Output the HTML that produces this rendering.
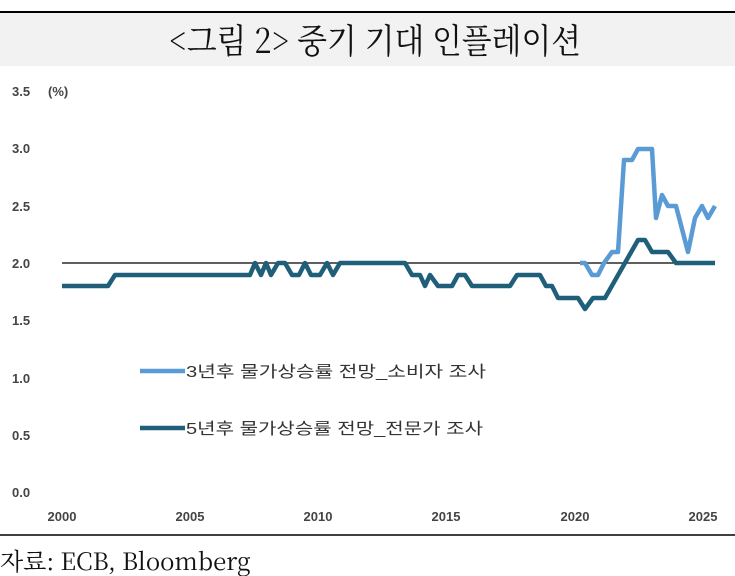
<!DOCTYPE html>
<html><head><meta charset="utf-8"><style>
body{margin:0;background:#fff;width:735px;height:576px;overflow:hidden;font-family:"Liberation Sans","Noto Sans CJK KR",sans-serif}
</style></head><body>
<svg width="735" height="576" xmlns="http://www.w3.org/2000/svg" style="position:absolute;left:0;top:0">
<rect x="0" y="13" width="735" height="53" fill="#f2f2f2"/>
<line x1="0" y1="12" x2="735" y2="12" stroke="#000" stroke-width="2"/>
<line x1="0" y1="535" x2="735" y2="535" stroke="#000" stroke-width="1.5"/>
<text x="375" y="53" text-anchor="middle" font-family="'Noto Serif CJK SC','Liberation Serif',serif" font-size="34" fill="#111" textLength="412" lengthAdjust="spacingAndGlyphs">&lt;그림 2&gt; 중기 기대 인플레이션</text>
<g font-size="13" font-weight="bold" fill="#444">
<text x="12" y="96">3.5</text><text x="48" y="96">(%)</text>
<text x="12" y="153">3.0</text><text x="12" y="211">2.5</text><text x="12" y="268">2.0</text>
<text x="12" y="325">1.5</text><text x="12" y="383">1.0</text><text x="12" y="440">0.5</text><text x="12" y="497">0.0</text>
<g text-anchor="middle">
<text x="62" y="521">2000</text><text x="190" y="521">2005</text><text x="318" y="521">2010</text>
<text x="446" y="521">2015</text><text x="575" y="521">2020</text><text x="703" y="521">2025</text></g>
</g>
<line x1="62" y1="263" x2="715" y2="263" stroke="#000" stroke-width="1.3"/>
<polyline fill="none" stroke="#1f5f7a" stroke-width="4.5" stroke-linejoin="round" points="62,286 108,286 115,275 250,275 255,263 261,275 266,263 271,275 278,263 285,263 292,275 299,275 305,263 311,275 320,275 327,263 333,275 340,263 405,263 412,275 420,275 425,286 430,275 438,286 452,286 458,275 465,275 472,286 510,286 517,275 540,275 546,286 552,286 558,298 578,298 585,309 593,298 605,298 638,240 645,240 652,252 668,252 676,263 715,263"/>
<polyline fill="none" stroke="#5b9bd5" stroke-width="4.5" stroke-linejoin="round" points="580,263 585,263 592,275 598,275 604,263 612,252 618,252 624,160 632,160 638,149 652,149 656,218 662,195 668,206 676,206 688,252 695,218 702,206 708,218 715,206"/>
<line x1="140" y1="371" x2="185" y2="371" stroke="#5b9bd5" stroke-width="4.5"/>
<line x1="140" y1="428" x2="185" y2="428" stroke="#1f5f7a" stroke-width="4.5"/>
<g font-size="16" fill="#333">
<text x="186" y="377" textLength="300" lengthAdjust="spacingAndGlyphs">3년후 물가상승률 전망_소비자 조사</text>
<text x="186" y="434" textLength="297" lengthAdjust="spacingAndGlyphs">5년후 물가상승률 전망_전문가 조사</text>
</g>
<text x="0" y="570" font-family="'Noto Serif CJK SC','Liberation Serif',serif" font-size="24" fill="#111">자료: ECB, Bloomberg</text>
</svg>
</body></html>
